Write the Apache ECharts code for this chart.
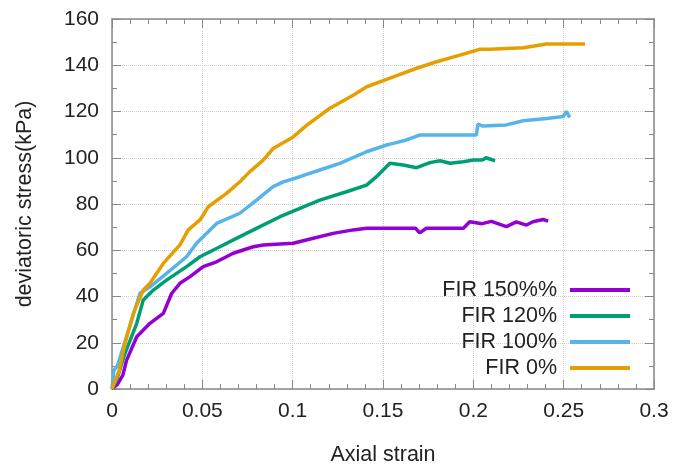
<!DOCTYPE html>
<html><head><meta charset="utf-8">
<script src="https://cdn.jsdelivr.net/npm/echarts@6/dist/echarts.min.js"></script>
<style>html,body{margin:0;padding:0;background:#fff}#c{width:687px;height:468px}</style>
</head><body><div id="c"></div>
<script>
var seriesNames = ['FIR 150%%', 'FIR 120%', 'FIR 100%', 'FIR 0%'];
var seriesColors = ['#9400d3', '#009e73', '#56b4e9', '#e69f00'];

var x150 = [0, 0.003, 0.006, 0.0081, 0.0137, 0.021, 0.0284, 0.033, 0.0376, 0.0432, 0.0505, 0.0579, 0.0671, 0.0782, 0.0837, 0.1003, 0.1114, 0.1224, 0.1335, 0.1409, 0.159, 0.168, 0.1703, 0.174, 0.1945, 0.198, 0.205, 0.21, 0.2183, 0.2238, 0.2294, 0.233, 0.2386, 0.2414];
var y150 = [0, 2, 6, 12.5, 22.6, 28.4, 32.7, 41.3, 45.7, 48.6, 52.9, 55, 58.7, 61.5, 62.3, 63, 65.2, 67.3, 68.8, 69.5, 69.5, 69.5, 67.5, 69.5, 69.5, 72.3, 71.5, 72.5, 70.2, 72.3, 70.9, 72.3, 73.3, 72.6];

var x120 = [0, 0.003, 0.007, 0.0137, 0.0173, 0.0229, 0.0302, 0.0413, 0.0487, 0.0597, 0.0708, 0.0819, 0.093, 0.104, 0.115, 0.1298, 0.1409, 0.1464, 0.1538, 0.1612, 0.1686, 0.176, 0.1815, 0.1871, 0.1945, 0.2, 0.205, 0.207, 0.212];
var y120 = [0, 5, 15, 28.4, 38.5, 42.8, 47.1, 52.9, 57.2, 61.5, 65.9, 70.2, 74.5, 78.1, 81.7, 85.3, 88.2, 91.8, 97.6, 96.9, 95.7, 97.9, 98.7, 97.6, 98.3, 99, 99, 100, 98.7];

var x100 = [0, 0.001, 0.003, 0.007, 0.0155, 0.021, 0.0302, 0.0413, 0.0468, 0.0579, 0.0708, 0.08, 0.0892, 0.0948, 0.104, 0.115, 0.1261, 0.1409, 0.152, 0.1557, 0.163, 0.1703, 0.2017, 0.2025, 0.2053, 0.2183, 0.2276, 0.2406, 0.2497, 0.2515, 0.2534];
var y100 = [0, 8, 10, 20, 41.4, 44.2, 50, 57.2, 63, 71.6, 76, 81.7, 87.5, 89.6, 91.8, 94.7, 97.6, 102.6, 105.5, 106.2, 107.7, 109.8, 109.8, 114.5, 113.7, 114.2, 116, 117, 117.8, 120, 117.5];

var x0 = [0, 0.004, 0.0072, 0.0118, 0.0173, 0.021, 0.0284, 0.0376, 0.0422, 0.0487, 0.0533, 0.0634, 0.0708, 0.0763, 0.0837, 0.0892, 0.1003, 0.1077, 0.1206, 0.1335, 0.141, 0.1557, 0.1686, 0.1797, 0.1926, 0.2037, 0.2092, 0.2277, 0.2406, 0.2618];
var y0 = [0, 8, 19.7, 32.7, 42.8, 45.7, 54.3, 62.3, 68.8, 73.1, 78.8, 84.6, 89.6, 94, 99, 104, 109, 114, 121.4, 127, 130.7, 135, 138.7, 141.5, 144.4, 146.9, 146.9, 147.6, 149.2, 149.2];

var xTicks = { min: 0, max: 0.3, interval: 0.05 };
var yTicks = { min: 0, max: 160, interval: 20 };

function zip(xs, ys) { return xs.map(function (v, i) { return [v, ys[i]]; }); }
var dataSets = [zip(x150, y150), zip(x120, y120), zip(x100, y100), zip(x0, y0)];

var font = 'Liberation Sans, Arial, sans-serif';
var axisColor = '#888';

function mkX(pos, show) {
  return {
    type: 'value', position: pos, min: xTicks.min, max: xTicks.max, interval: xTicks.interval,
    name: show ? 'Axial strain' : '', nameLocation: 'middle', nameGap: 55,
    nameTextStyle: { fontFamily: font, fontSize: 21.5, color: '#222' },
    axisLine: { show: true, onZero: false, lineStyle: { color: axisColor, width: 1.5 } },
    axisTick: { show: true, inside: true, length: 9, lineStyle: { color: axisColor } },
    minorTick: { show: true, splitNumber: 5, length: 5, lineStyle: { color: axisColor } },
    axisLabel: { show: show, fontFamily: font, fontSize: 21, color: '#222', margin: 12 },
    splitLine: { show: show, lineStyle: { type: 'dotted', color: '#d0d0d0' } }
  };
}
function mkY(pos, show) {
  return {
    type: 'value', position: pos, min: yTicks.min, max: yTicks.max, interval: yTicks.interval,
    name: show ? 'deviatoric stress(kPa)' : '', nameLocation: 'middle', nameGap: 76, nameRotate: 90,
    nameTextStyle: { fontFamily: font, fontSize: 21.5, color: '#222' },
    axisLine: { show: true, onZero: false, lineStyle: { color: axisColor, width: 1.5 } },
    axisTick: { show: true, inside: true, length: 9, lineStyle: { color: axisColor } },
    minorTick: { show: true, splitNumber: 2, length: 5, lineStyle: { color: axisColor } },
    axisLabel: { show: show, fontFamily: font, fontSize: 21, color: '#222', margin: 13 },
    splitLine: { show: show, lineStyle: { type: 'dotted', color: '#d0d0d0' } }
  };
}

var chart = echarts.init(document.getElementById('c'), null, { renderer: 'canvas' });
chart.setOption({
  animation: false,
  backgroundColor: '#fff',
  grid: { left: 112, right: 33, top: 19, bottom: 79, containLabel: false, outerBoundsMode: 'none' },
  xAxis: [mkX('bottom', true), mkX('top', false)],
  yAxis: [mkY('left', true), mkY('right', false)],
  legend: {
    data: seriesNames, orient: 'vertical', right: 57, top: 279, align: 'right', padding: 0,
    icon: 'rect', itemWidth: 60, itemHeight: 4, itemGap: 4,
    textStyle: { fontFamily: font, fontSize: 21.5, color: '#222', width: 120, align: 'right', lineHeight: 22, padding: [0, 8, 0, 0] }
  },
  series: seriesNames.map(function (n, i) {
    return {
      name: n, type: 'line', data: dataSets[i], showSymbol: false, symbol: 'none',
      color: seriesColors[i], lineStyle: { width: 3.5, color: seriesColors[i] },
      xAxisIndex: 0, yAxisIndex: 0
    };
  })
});
</script></body></html>
